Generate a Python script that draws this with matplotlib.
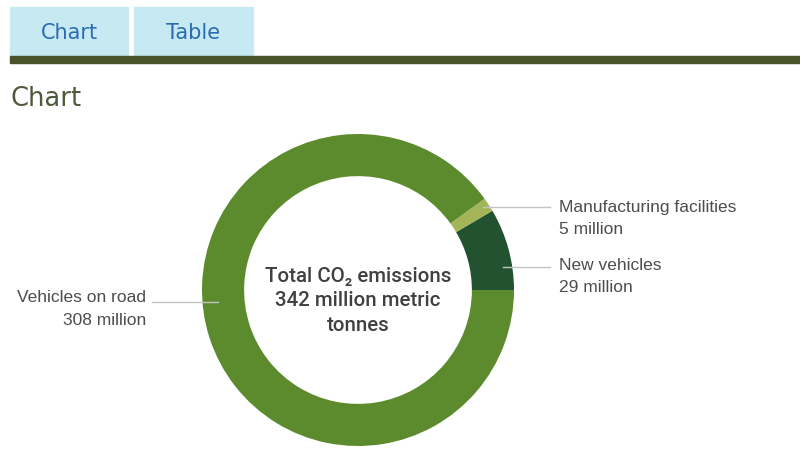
import matplotlib.pyplot as plt
from matplotlib.patches import Rectangle

# CO2 emissions breakdown (million metric tonnes)
sources = ['New vehicles', 'Manufacturing facilities', 'Vehicles on road']
emissions = [29, 5, 308]
colors = ['#22522f', '#a4b458', '#5b8b2c']
total = 342

W, H = 800, 449
fig = plt.figure(figsize=(W / 100, H / 100), dpi=100)


def fx(px):
    return px / W


def fy(py):
    return 1 - py / H


# tab strip and header
tabs = [('Chart', 10, 128), ('Table', 134, 253)]
for label, x0, x1 in tabs:
    fig.patches.append(Rectangle((fx(x0), fy(56)), fx(x1 - x0), 49 / H,
                                 transform=fig.transFigure, color='#c7e9f2', zorder=0))
    fig.text(fx((x0 + x1) / 2), fy(33), label, ha='center', va='center',
             fontsize=15, color='#2a6cb3', family='DejaVu Sans')
fig.patches.append(Rectangle((fx(10), fy(63)), fx(790), 7 / H,
                             transform=fig.transFigure, color='#4a5229', zorder=0))
fig.text(fx(10), fy(99), 'Chart', ha='left', va='center', fontsize=18.5,
         color='#4e5a3c', family='DejaVu Sans')

# donut
cx, cy, R = 358, 290, 156
ax = fig.add_axes([fx(cx - R), fy(cy + R), 2 * R / W, 2 * R / H])
ax.pie(emissions, colors=colors, startangle=0, counterclock=True, radius=1,
       wedgeprops=dict(width=0.27, linewidth=0), frame=False)
ax.set_xlim(-1, 1)
ax.set_ylim(-1, 1)
ax.set_aspect('equal')
ax.axis('off')
for w in ax.patches:
    w.set_clip_on(False)

ax.text(0, -0.07, f'Total CO\u2082 emissions\n{total} million metric\ntonnes',
        ha='center', va='center', fontsize=14.8, color='#404040', weight='medium',
        linespacing=1.38, family=['Roboto', 'DejaVu Sans'])

# leader lines and labels
label_font = dict(fontsize=12.5, color='#4d4d4d', family='Liberation Sans')
leaders = [
    # (name, value, line y, text y, line start x, line end x, text x, side)
    (sources[1], emissions[1], 0.53, 0.53, 0.80, 1.23, 1.29, 'left'),
    (sources[0], emissions[0], 0.15, 0.16, 0.93, 1.23, 1.29, 'left'),
    (sources[2], emissions[2], -0.08, -0.05, -0.90, -1.32, -1.36, 'right'),
]
for name, val, ly, ty, x0, x1, tx, ha in leaders:
    ax.plot([x0, x1], [ly, ly], color='#c4c4c4', lw=1, clip_on=False)
    ax.text(tx, ty, name, ha=ha, va='center', **label_font)
    ax.text(tx, ty - 0.145, f'{val} million', ha=ha, va='center', **label_font)

fig.savefig('out.png', dpi=100, facecolor='white')
